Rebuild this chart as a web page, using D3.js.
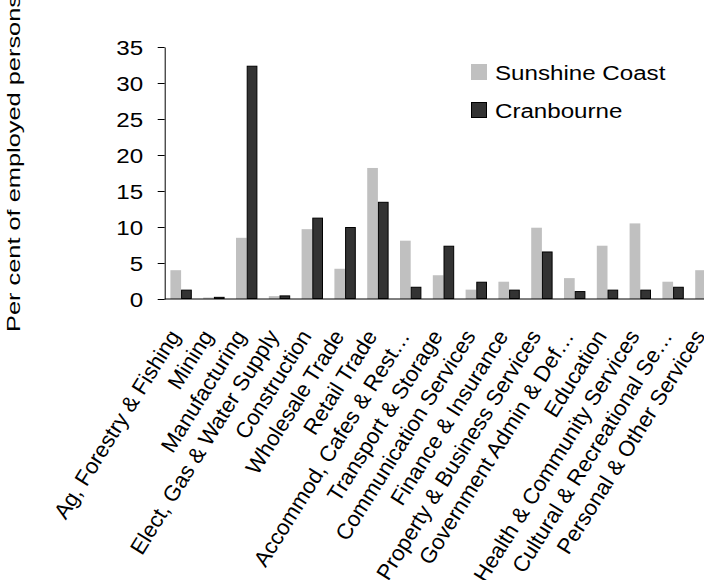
<!DOCTYPE html>
<html><head><meta charset="utf-8">
<script src="https://cdn.jsdelivr.net/npm/d3@7"></script>
<style>
body{margin:0;background:#fff}
svg{display:block;background:#fff}
text{font-family:Arial,"Liberation Sans",sans-serif;fill:#000}
</style>
</head><body>
<svg id="c" width="704" height="580"></svg>
<script>
const categories = ["Ag, Forestry & Fishing","Mining","Manufacturing","Elect, Gas & Water Supply","Construction","Wholesale Trade","Retail Trade","Accommod, Cafes & Rest…","Transport & Storage","Communication Services","Finance & Insurance","Property & Business Services","Government Admin & Def…","Education","Health & Community Services","Cultural & Recreational Se…","Personal & Other Services"];
const seriesNames = ["Sunshine Coast","Cranbourne"];
const sunshineCoast = [4.0,0.2,8.5,0.4,9.7,4.2,18.2,8.1,3.3,1.3,2.4,9.9,2.9,7.4,10.5,2.4,4.0];
const cranbourne = [1.3,0.3,32.4,0.5,11.3,10.0,13.5,1.7,7.4,2.4,1.3,6.6,1.1,1.3,1.3,1.7,1.5];
const yTicks = [0,5,10,15,20,25,30,35];
const yTitle = "Per cent of employed persons";
const colors = ["#c0c0c0","#333333"];

const svg = d3.select("#c");
const pLeft = 164.7, pRight = 722.3, pTop = 47, pBottom = 299;
const x = d3.scaleBand().domain(categories).range([pLeft, pRight]).paddingInner(0.348).paddingOuter(0.174);
const x1 = d3.scaleBand().domain(seriesNames).range([0, x.bandwidth()]);
const y = d3.scaleLinear().domain([0,35]).range([pBottom, pTop]);
const series = [sunshineCoast, cranbourne];
const HS = 1.15;

// bars
seriesNames.forEach((s, si) => {
  svg.append("g").selectAll("rect").data(categories).join("rect")
    .attr("x", (c) => x(c) + x1(s) + (si ? 0.5 : 0))
    .attr("y", (c, i) => y(series[si][i]) + (si ? 0.5 : 0))
    .attr("width", x1.bandwidth() - (si ? 1 : 0))
    .attr("height", (c, i) => Math.max(0, pBottom - y(series[si][i]) - (si ? 1 : 0)))
    .attr("fill", colors[si])
    .attr("stroke", si ? "#000" : "none")
    .attr("stroke-width", 1);
});

// y axis
const ya = svg.append("g").attr("transform", `translate(${pLeft},0)`)
  .call(d3.axisLeft(y).tickValues(yTicks).tickSize(7).tickSizeOuter(0).tickPadding(5));
ya.select(".domain").attr("stroke", "#000");
ya.selectAll(".tick line").attr("stroke", "#000");
ya.selectAll(".tick text").attr("font-size", 21).attr("font-family", "Arial, 'Liberation Sans', sans-serif")
  .attr("x", -21.5 / HS).attr("transform", `scale(${HS},1)`).attr("dy", "0.36em");

// x axis
const xa = svg.append("g").attr("transform", `translate(0,${pBottom})`)
  .call(d3.axisBottom(x).tickSize(0).tickSizeOuter(0).tickFormat(""));
xa.select(".domain").attr("stroke", "#000").attr("d", `M${pLeft},0H${pRight}`);

svg.append("g").selectAll("text").data(categories).join("text")
  .attr("transform", (c) => `translate(${x(c) + x.bandwidth()/2},336) rotate(-58)`)
  .attr("text-anchor", "end")
  .attr("font-size", 22)
  .text((c) => c);

// y title
svg.append("text")
  .attr("transform", "translate(20,332) rotate(-90)")
  .attr("font-size", 19)
  .attr("textLength", 337)
  .attr("lengthAdjust", "spacingAndGlyphs")
  .text(yTitle);

// legend
const lg = svg.append("g");
seriesNames.forEach((s, i) => {
  const yy = 64 + i * 38;
  lg.append("rect").attr("x", 471 + (i ? 0.5 : 0)).attr("y", yy + (i ? 0.5 : 0))
    .attr("width", i ? 15 : 16).attr("height", i ? 15 : 16)
    .attr("fill", colors[i]).attr("stroke", i ? "#000" : "none");
  lg.append("text").attr("x", 495 / HS).attr("y", yy + 16).attr("transform", `scale(${HS},1)`)
    .attr("font-size", 21).text(s);
});
</script>
</body></html>
